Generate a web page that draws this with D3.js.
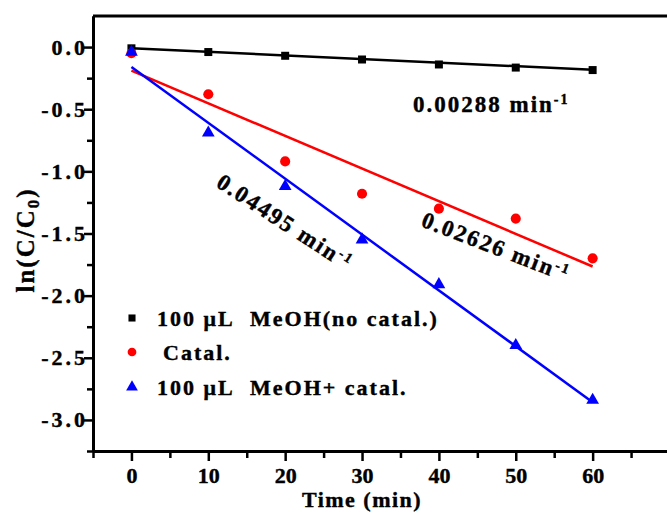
<!DOCTYPE html>
<html>
<head>
<meta charset="utf-8">
<script src="https://cdn.jsdelivr.net/npm/d3@7"></script>
<style>
  body { margin: 0; background: #fff; }
  svg text { font-family: "Liberation Serif", "Times New Roman", serif; font-weight: bold; fill: #000; stroke: #000; stroke-width: 0.4px; }
</style>
</head>
<body>
<div id="chart" style="width:667px;height:517px;"></div>
<script>
  /* DATA */
  const times = [0, 10, 20, 30, 40, 50, 60];
  const methanolOnly = [-0.01, -0.04, -0.07, -0.10, -0.14, -0.165, -0.185];
  const catalOnly = [-0.05, -0.38, -0.92, -1.18, -1.30, -1.38, -1.70];
  const methanolCatal = [-0.04, -0.69, -1.12, -1.55, -1.91, -2.40, -2.84];
  // fitted lines: intercept and slope (ln units / min)
  const fitIntercepts = [-0.01, -0.19, -0.16];
  const fitSlopes = [-0.00288, -0.02626, -0.04495];
  const rateLabels = ["0.00288", "0.02626", "0.04495"];
  const legendLabels = [["100 μL", "MeOH(no catal.)"], ["Catal.", ""], ["100 μL", "MeOH+ catal."]];
  const xTicks = [0, 10, 20, 30, 40, 50, 60];
  const yTicks = [0, -0.5, -1.0, -1.5, -2.0, -2.5, -3.0];

  const width = 667, height = 517;
  const margin = {top: 16, left: 93, bottom: 66};

  const svg = d3.select("#chart").append("svg")
    .attr("width", width)
    .attr("height", height);

  /* SCALES */
  const xScale = d3.scaleLinear().domain([-5, 70]).range([margin.left, 669.5]);
  const yScale = d3.scaleLinear().domain([-3.25, 0.25]).range([height - margin.bottom, margin.top]);

  const colors = ["#000000", "#ff0000", "#0000ff"];
  const series = [methanolOnly, catalOnly, methanolCatal];

  /* AXES */
  const xAxis = svg.append("g")
    .attr("transform", `translate(0,${yScale(-3.25)})`)
    .call(d3.axisBottom(xScale).tickValues(xTicks).tickSize(10).tickSizeOuter(0).tickPadding(6).tickFormat(d3.format("d")));
  svg.append("g")
    .attr("transform", `translate(0,${yScale(-3.25)})`)
    .call(d3.axisBottom(xScale).tickValues(d3.range(-5, 70, 10)).tickSize(7).tickSizeOuter(0).tickFormat(""));

  const yAxis = svg.append("g")
    .attr("transform", `translate(${margin.left},0)`)
    .call(d3.axisLeft(yScale).tickValues(yTicks).tickSize(9).tickSizeOuter(0).tickPadding(6)
      .tickFormat(d => d3.format(".1f")(d).replace("−", "-")));
  svg.append("g")
    .attr("transform", `translate(${margin.left},0)`)
    .call(d3.axisLeft(yScale).tickValues(d3.range(-0.25, -3.3, -0.5)).tickSize(6).tickSizeOuter(0).tickFormat(""));

  svg.selectAll(".domain").attr("stroke", "#000").attr("stroke-width", 3);
  svg.selectAll(".tick line").attr("stroke", "#000").attr("stroke-width", 2.5);
  xAxis.selectAll("text").attr("font-size", 22).attr("font-family", "Liberation Serif").attr("font-weight", "bold");
  yAxis.selectAll("text").attr("font-size", 22).attr("font-family", "Liberation Serif").attr("font-weight", "bold")
    .attr("letter-spacing", 3).attr("dx", 10);

  // top frame line
  svg.append("line")
    .attr("x1", margin.left).attr("x2", width)
    .attr("y1", yScale(0.25)).attr("y2", yScale(0.25))
    .attr("stroke", "#000").attr("stroke-width", 3);

  /* AXIS LABELS */
  svg.append("text")
    .attr("x", xScale(30)).attr("y", 507)
    .attr("text-anchor", "middle").attr("font-size", 22).attr("letter-spacing", 1.5)
    .text("Time (min)");

  const yl = svg.append("text")
    .attr("transform", `translate(34,240) rotate(-90)`)
    .attr("text-anchor", "middle").attr("font-size", 25).attr("letter-spacing", 2);
  yl.append("tspan").text("ln(C/C");
  yl.append("tspan").attr("font-size", 17).attr("dy", 5).text("0");
  yl.append("tspan").attr("dy", -5).text(")");

  /* FIT LINES */
  series.forEach((s, i) => {
    svg.append("line")
      .attr("x1", xScale(0)).attr("y1", yScale(fitIntercepts[i]))
      .attr("x2", xScale(60)).attr("y2", yScale(fitIntercepts[i] + fitSlopes[i] * 60))
      .attr("stroke", colors[i]).attr("stroke-width", 2.5);
  });

  /* MARKS */
  const symbols = [d3.symbolSquare, d3.symbolCircle, d3.symbolTriangle];
  const sizes = [64, 80, 70];
  series.forEach((s, i) => {
    svg.selectAll(null)
      .data(s)
      .enter()
      .append("path")
        .attr("d", d3.symbol().type(symbols[i]).size(sizes[i]))
        .attr("transform", (d, j) => `translate(${xScale(times[j])},${yScale(d)})`)
        .attr("fill", colors[i]);
  });

  /* RATE ANNOTATIONS */
  function rateText(x, y, angle, label) {
    const t = svg.append("text")
      .attr("transform", `translate(${x},${y}) rotate(${angle})`)
      .attr("font-size", 23).attr("letter-spacing", 2);
    t.append("tspan").text(label + " min");
    t.append("tspan").attr("font-size", 14).attr("dy", -8).text("-1");
  }
  rateText(413, 112, 0, rateLabels[0]);
  rateText(420, 226, 21, rateLabels[1]);
  rateText(215, 186, 33, rateLabels[2]);

  /* LEGEND */
  const legendY = [318, 352, 387];
  legendLabels.forEach((lab, i) => {
    svg.append("path")
      .attr("d", d3.symbol().type(symbols[i]).size([50, 60, 60][i]))
      .attr("transform", `translate(132,${legendY[i]})`)
      .attr("fill", colors[i]);
    svg.append("text")
      .attr("x", i === 1 ? 163 : 157).attr("y", legendY[i] + 8)
      .attr("font-size", 22).attr("letter-spacing", 2)
      .text(lab[0]);
    if (lab[1]) {
      svg.append("text")
        .attr("x", 250).attr("y", legendY[i] + 8)
        .attr("font-size", 22).attr("letter-spacing", 2)
        .text(lab[1]);
    }
  });
</script>
</body>
</html>
